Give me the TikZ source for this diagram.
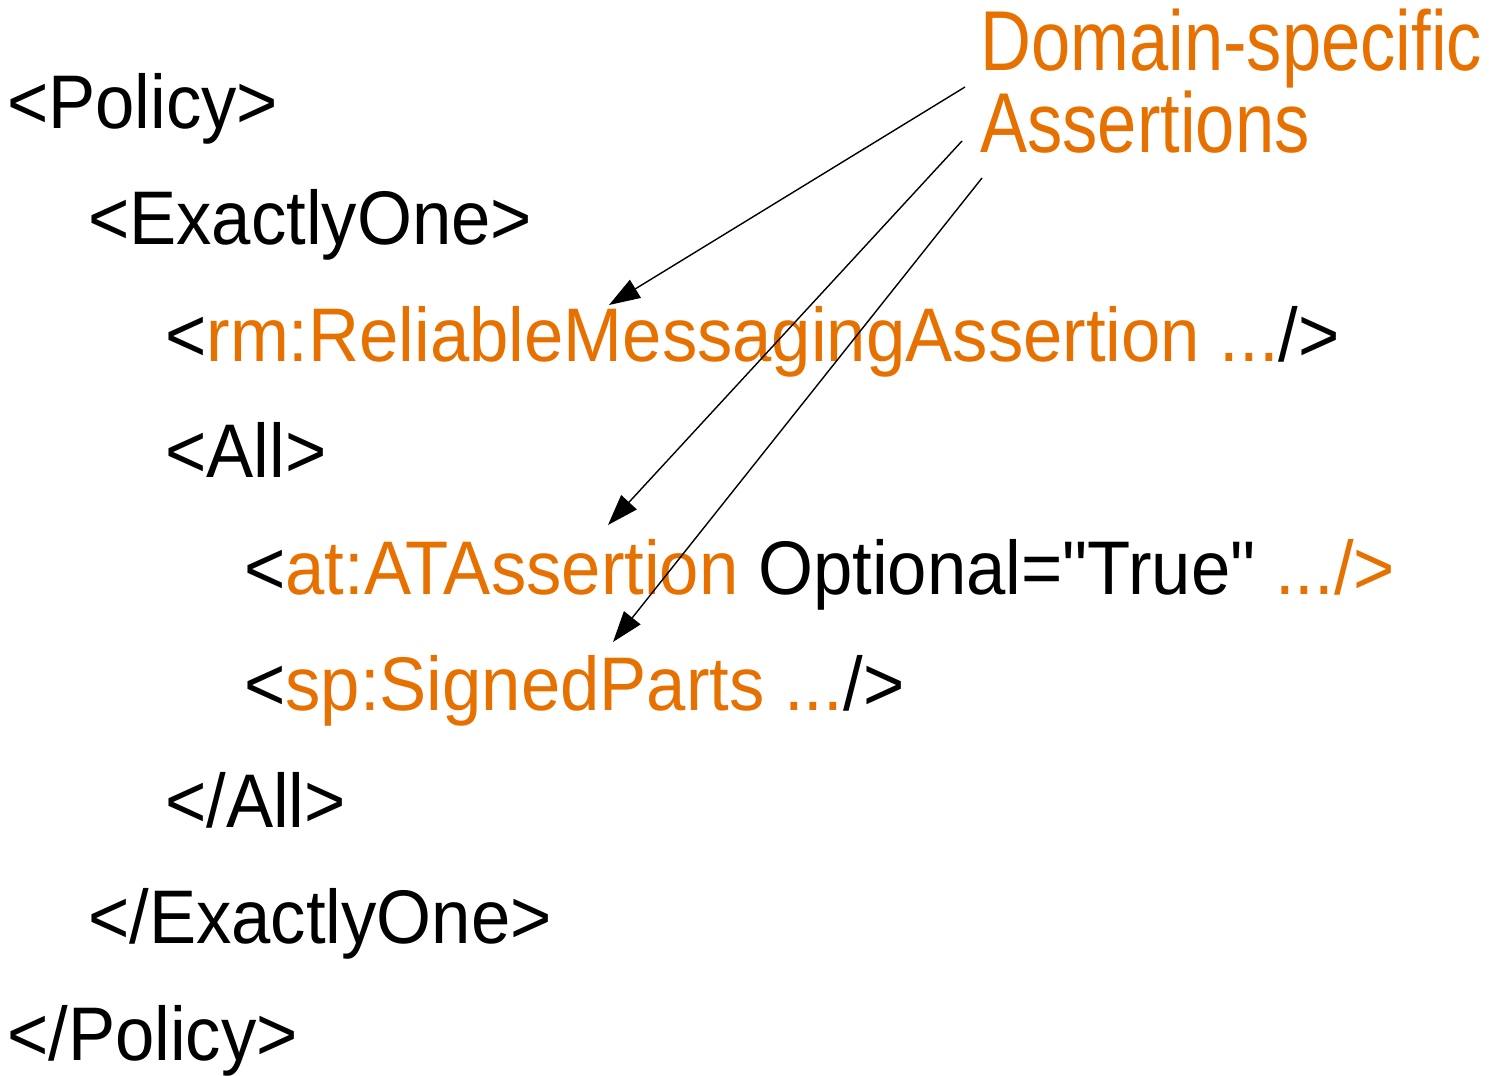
\documentclass[tikz,border=0pt]{standalone}
\usepackage{fontspec}
\setmainfont{Liberation Sans}
\newfontfamily\bodyfont[FakeStretch=0.93]{Liberation Sans}
\newfontfamily\titlefont[FakeStretch=0.83]{Liberation Sans}
\usetikzlibrary{arrows.meta}
\definecolor{dorange}{RGB}{230,112,0}
\begin{document}
\begin{tikzpicture}[x=1pt,y=-1pt,
  code/.style={anchor=base west,inner sep=0pt,font=\bodyfont\fontsize{76}{80}\selectfont},
  title/.style={anchor=base west,inner sep=0pt,font=\titlefont\fontsize{85}{82}\selectfont,text=dorange},
  pointer/.style={line width=1.4pt,-{Triangle[length=31pt,width=21pt]}}]
\useasboundingbox (0,0) rectangle (1489,1076);
\node[code] (policy) at (7,128) {<Policy>};
\node[code] (exone) at (88,244.5) {<ExactlyOne>};
\node[code] (rm) at (165,361) {<\textcolor{dorange}{rm:ReliableMessagingAssertion ...}/>};
\node[code] (all) at (165,477.5) {<All>};
\node[code] (at) at (244,594) {<\textcolor{dorange}{at:ATAssertion} Optional="True" \textcolor{dorange}{.../>}};
\node[code] (sp) at (244,710.5) {<\textcolor{dorange}{sp:SignedParts ...}/>};
\node[code] (eall) at (165,827) {</All>};
\node[code] (eexone) at (88,943.5) {</ExactlyOne>};
\node[code] (epolicy) at (7,1060) {</Policy>};
\node[title] (dom) at (980,70) {Domain-specific};
\node[title] (asr) at (980,152) {Assertions};
\coordinate (s1) at (965,87);
\coordinate (s2) at (962,141);
\coordinate (s3) at (982,178);
\coordinate (t1) at (609,305);
\coordinate (t2) at (608,525);
\coordinate (t3) at (613,642);
\draw[pointer] (s1) -- (t1);
\draw[pointer] (s2) -- (t2);
\draw[pointer] (s3) -- (t3);
\end{tikzpicture}
\end{document}
